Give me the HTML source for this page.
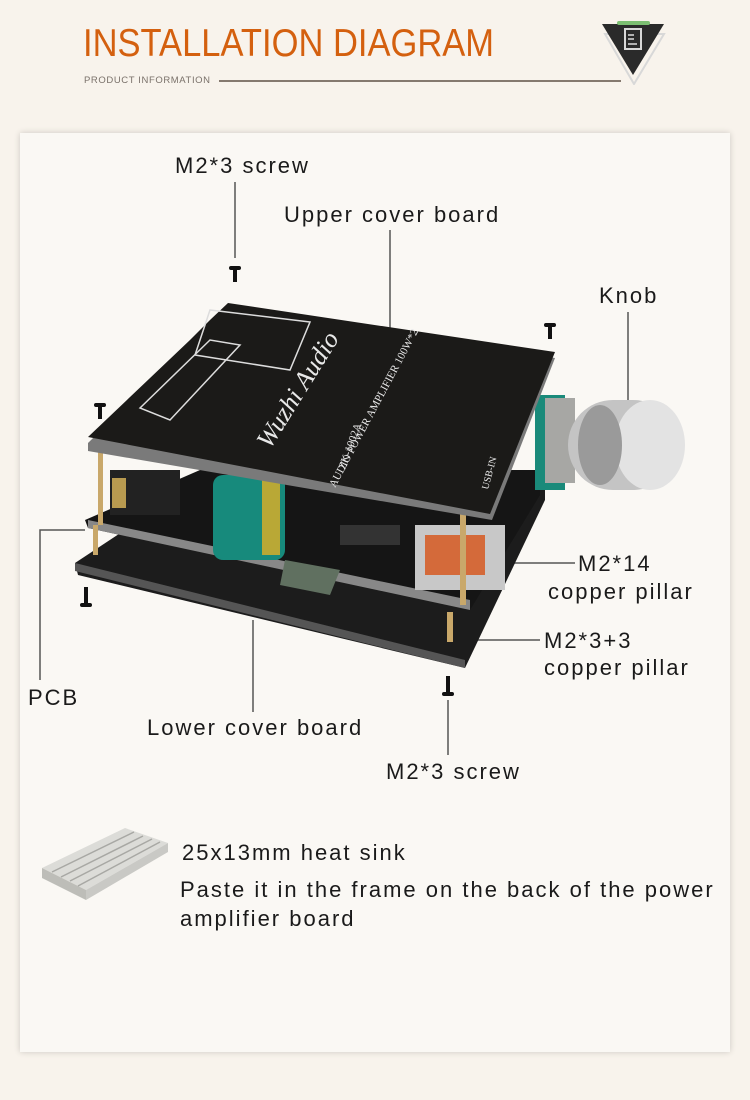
<!DOCTYPE html>
<html><head><meta charset="utf-8"><style>
html,body{margin:0;padding:0;}
body{width:750px;height:1100px;background:#f8f3ec;position:relative;overflow:hidden;font-family:"Liberation Sans",sans-serif;}
.card{position:absolute;left:20px;top:133px;width:710px;height:919px;background:#faf8f4;box-shadow:0 0 6px rgba(0,0,0,0.18);}
.t{position:absolute;font-size:22px;color:#1a1a1a;letter-spacing:2px;white-space:nowrap;line-height:1;}
</style></head><body>
<div style="position:absolute;left:83px;top:24px;font-size:39px;color:#d4600f;transform:scaleX(0.885);transform-origin:left top;white-space:nowrap;line-height:1;">INSTALLATION DIAGRAM</div>
<div style="position:absolute;left:84px;top:75px;font-size:9.5px;color:#7a716a;letter-spacing:0.6px;">PRODUCT INFORMATION</div>
<div style="position:absolute;left:219px;top:80px;width:402px;height:2px;background:#85796f;"></div>
<svg style="position:absolute;left:600px;top:20px" width="70" height="65">
<polygon points="5,14 64,14 34,64" fill="none" stroke="#d8d8d8" stroke-width="2"/>
<polygon points="2,4 64,4 33,55" fill="#2a2a2a"/>
<rect x="17" y="1" width="33" height="4" rx="2" fill="#7cbf72"/>
<rect x="25" y="9" width="16" height="20" fill="none" stroke="#d8d8d8" stroke-width="2"/>
<line x1="28" y1="15" x2="34" y2="15" stroke="#ddd" stroke-width="1.5"/><line x1="28" y1="19" x2="34" y2="19" stroke="#ddd" stroke-width="1.5"/><line x1="28" y1="24" x2="37" y2="24" stroke="#ddd" stroke-width="1.5"/>
</svg>
<div class="card"></div>
<svg style="position:absolute;left:0;top:0" width="750" height="1100">
<g stroke="#555" stroke-width="1.5" fill="none">
<line x1="235" y1="182" x2="235" y2="258"/>
<line x1="390" y1="230" x2="390" y2="330"/>
<line x1="628" y1="312" x2="628" y2="400"/>
<line x1="465" y1="563" x2="575" y2="563"/>
<line x1="465" y1="640" x2="540" y2="640"/>
<polyline points="40,680 40,530 85,530"/>
<line x1="253" y1="620" x2="253" y2="712"/>
<line x1="448" y1="700" x2="448" y2="755"/>
</g>
<polygon points="75,563 140,520 545,480 545,500 465,668 78,575" fill="#1c1c1c"/>
<polygon points="75,563 465,660 465,668 75,571" fill="#555"/>
<polygon points="85,520 200,470 540,470 540,495 470,610 88,528" fill="#151515"/>
<polygon points="88,520 470,600 470,610 88,528" fill="#888"/>
<rect x="110" y="470" width="70" height="45" fill="#222"/>
<rect x="112" y="478" width="14" height="30" fill="#b89a50"/>
<rect x="213" y="475" width="72" height="85" rx="10" fill="#178a7c"/>
<rect x="262" y="475" width="18" height="80" fill="#b9a836"/>
<polygon points="285,560 340,570 330,595 280,585" fill="#607060"/>
<rect x="340" y="525" width="60" height="20" fill="#333"/>
<rect x="415" y="525" width="90" height="65" fill="#c8c8c8"/>
<rect x="425" y="535" width="60" height="40" fill="#d46a3a"/>
<rect x="535" y="395" width="30" height="95" fill="#1a8a7a"/>
<rect x="545" y="398" width="30" height="85" fill="#a7a7a4"/>
<rect x="568" y="400" width="110" height="90" rx="45" fill="#c4c4c4"/>
<ellipse cx="650" cy="445" rx="35" ry="45" fill="#e3e3e3"/>
<ellipse cx="600" cy="445" rx="22" ry="40" fill="#9a9a9a"/>
<rect x="98" y="440" width="5" height="85" fill="#c9a86a"/>
<rect x="460" y="505" width="6" height="100" fill="#c9a86a"/>
<rect x="93" y="525" width="5" height="30" fill="#c9a86a"/>
<rect x="447" y="612" width="6" height="30" fill="#c9a86a"/>
<polygon points="88,443 228,305 555,358 492,520 88,451" fill="#7a7a7a"/>
<polygon points="88,437 190,340 210,320 228,303 555,352 490,514" fill="#1b1a18"/>
<g fill="none" stroke="#ddd" stroke-width="1.5">
<polygon points="140,408 210,340 240,345 170,420"/>
<polygon points="210,310 310,322 290,370 195,355"/>
</g>
<g fill="#e8e8e8" font-family="Liberation Serif,serif">
<text x="0" y="0" font-size="26" font-style="italic" transform="translate(270,450) rotate(-58)">Wuzhi Audio</text>
<text x="0" y="0" font-size="11" transform="translate(345,470) rotate(-70)">ZK-1002A</text>
<text x="0" y="0" font-size="11" transform="translate(335,488) rotate(-62)">AUDIO POWER AMPLIFIER 100W*2</text>
<text x="0" y="0" font-size="10" transform="translate(488,490) rotate(-75)">USB-IN</text>
</g>
<g fill="#111">
<rect x="229" y="266" width="12" height="4" rx="2"/><rect x="233" y="266" width="4" height="16"/>
<rect x="544" y="323" width="12" height="4" rx="2"/><rect x="548" y="323" width="4" height="16"/>
<rect x="94" y="403" width="12" height="4" rx="2"/><rect x="98" y="403" width="4" height="16"/>
<rect x="80" y="603" width="12" height="4" rx="2"/><rect x="84" y="587" width="4" height="18"/>
<rect x="442" y="692" width="12" height="4" rx="2"/><rect x="446" y="676" width="4" height="18"/>
</g>
<polygon points="42,868 125,828 168,843 86,890" fill="#dcdcd8"/>
<polygon points="42,868 86,890 86,900 42,878" fill="#bdbdb8"/>
<polygon points="86,890 168,843 168,852 86,900" fill="#c9c9c5"/>
<g stroke="#a8a8a4" stroke-width="1.5"><line x1="52" y1="872" x2="134" y2="832"/><line x1="61" y1="877" x2="143" y2="836"/><line x1="70" y1="881" x2="152" y2="839"/><line x1="78" y1="886" x2="160" y2="842"/></g>
</svg>
<div class="t" style="left:175px;top:155px">M2*3 screw</div>
<div class="t" style="left:284px;top:204px">Upper cover board</div>
<div class="t" style="left:599px;top:285px">Knob</div>
<div class="t" style="left:578px;top:553px">M2*14</div>
<div class="t" style="left:548px;top:581px">copper pillar</div>
<div class="t" style="left:544px;top:630px">M2*3+3</div>
<div class="t" style="left:544px;top:657px">copper pillar</div>
<div class="t" style="left:28px;top:687px">PCB</div>
<div class="t" style="left:147px;top:717px">Lower cover board</div>
<div class="t" style="left:386px;top:761px">M2*3 screw</div>
<div class="t" style="left:182px;top:842px">25x13mm heat sink</div>
<div class="t" style="left:180px;top:879px">Paste it in the frame on the back of the power</div>
<div class="t" style="left:180px;top:908px">amplifier board</div>
</body></html>
